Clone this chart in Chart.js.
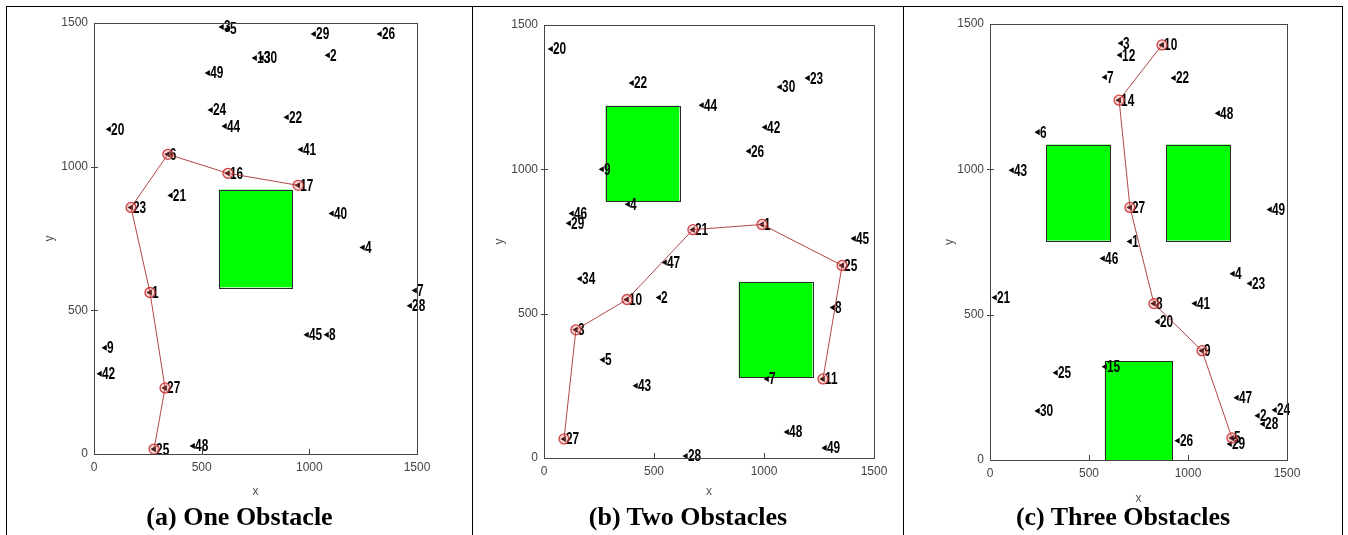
<!DOCTYPE html>
<html>
<head>
<meta charset="utf-8">
<script src="https://cdn.jsdelivr.net/npm/chart.js@4.4.1/dist/chart.umd.min.js"></script>
<style>
  html, body { margin: 0; padding: 0; background: #fff; }
  body { width: 1348px; height: 535px; position: relative; overflow: hidden; }
  .line { position: absolute; background: #000; }
  .cv { position: absolute; top: 7px; }
  .cap { position: absolute; top: 502px; font: bold 26px "Liberation Serif", "Times New Roman", serif; color: #000; text-align: center; }
</style>
</head>
<body>
<div class="line" style="left:6px;top:6px;width:1337px;height:1px"></div>
<div class="line" style="left:6px;top:6px;width:1px;height:529px"></div>
<div class="line" style="left:472px;top:6px;width:1px;height:529px"></div>
<div class="line" style="left:903px;top:6px;width:1px;height:529px"></div>
<div class="line" style="left:1342px;top:6px;width:1px;height:529px"></div>

<canvas id="chartA" class="cv" style="left:7px" width="465" height="496"></canvas>
<canvas id="chartB" class="cv" style="left:473px" width="430" height="496"></canvas>
<canvas id="chartC" class="cv" style="left:904px" width="438" height="503"></canvas>

<div class="cap" style="left:7px;width:465px">(a) One Obstacle</div>
<div class="cap" style="left:473px;width:430px">(b) Two Obstacles</div>
<div class="cap" style="left:904px;width:438px">(c) Three Obstacles</div>

<script>
// (a) one obstacle
const labelsA = ['3','5','29','26','13','30','2','49','24','44','22','20','41','6','16','17','21','23','40','4','1','7','28','45','8','9','42','27','25','48'];
const xA = [594,622,1022,1328,748,780,1087,530,543,608,896,70,961,343,622,948,357,172,1105,1249,260,1491,1468,989,1082,51,28,330,279,460];
const yA = [1486,1480,1462,1462,1378,1378,1388,1326,1197,1141,1172,1130,1060,1043,977,935,900,858,837,719,562,569,516,415,415,370,279,230,17,28];
const pathA = ['25','27','1','23','6','16','17'];
const obstA = [[580,580,920,920]];

// (b) two obstacles
const labelsB = ['20','22','44','30','23','42','26','9','4','46','29','21','1','45','25','47','34','10','2','8','3','5','43','7','11','27','48','49','28'];
const xB = [32,400,718,1073,1200,1005,932,264,382,127,114,677,991,1409,1355,550,164,377,523,1314,145,268,418,1014,1268,91,1105,1277,645];
const yB = [1417,1299,1222,1285,1316,1146,1063,1000,879,847,813,791,809,760,667,677,621,549,556,521,444,340,250,274,274,66,90,35,7];
const pathB = ['27','3','10','21','1','25','11'];
const obstB = [[280,890,615,1220],[885,280,1220,610]];

// (c) three obstacles
const labelsC = ['3','12','10','7','22','14','48','6','43','27','49','1','46','4','23','21','41','8','20','9','15','25','47','30','24','2','28','26','5','29'];
const xC = [662,657,869,581,929,652,1152,242,111,707,1414,707,571,1227,1313,25,1035,828,848,1071,581,333,1247,242,1439,1353,1379,949,1222,1212];
const yC = [1434,1393,1428,1317,1314,1238,1193,1128,997,869,862,752,693,641,607,559,538,538,476,376,321,300,214,169,172,152,124,66,76,55];
const pathC = ['10','14','27','8','9','5'];
const obstC = [[285,755,610,1085],[890,755,1215,1085],[580,0,920,340]];

const tickVals = [0, 500, 1000, 1500];
const sans = '"Liberation Sans", Arial, sans-serif';

const mapExtras = {
  id: 'mapExtras',
  beforeDatasetsDraw(chart, args, opts) {
    const ctx = chart.ctx, xs = chart.scales.x, ys = chart.scales.y;
    ctx.save();
    opts.obstacles.forEach(r => {
      const x0 = xs.getPixelForValue(r[0]), x1 = xs.getPixelForValue(r[2]);
      const y0 = ys.getPixelForValue(r[3]), y1 = ys.getPixelForValue(r[1]);
      ctx.fillStyle = '#00ff00';
      ctx.fillRect(x0, y0, x1 - x0, y1 - y0);
      ctx.strokeStyle = '#2a2a2a';
      ctx.lineWidth = 1;
      ctx.strokeRect(Math.round(x0) + 0.5, Math.round(y0) + 0.5, Math.round(x1 - x0), Math.round(y1 - y0));
    });
    ctx.restore();
  },
  afterDatasetDraw(chart, args, opts) {
    if (args.index !== 1) return;
    const ctx = chart.ctx;
    ctx.fillStyle = '#000';
    ctx.font = 'bold 16px ' + sans;
    ctx.textBaseline = 'middle';
    ctx.textAlign = 'left';
    args.meta.data.forEach((el, i) => {
      // condensed look like the original MATLAB labels
      ctx.save();
      ctx.translate(el.x + 2, el.y + 1);
      ctx.scale(0.74, 1);
      ctx.fillText(opts.labels[i], 0, 0);
      ctx.restore();
    });
  },
  afterDraw(chart) {
    const ctx = chart.ctx, a = chart.chartArea, xs = chart.scales.x, ys = chart.scales.y;
    ctx.save();
    ctx.strokeStyle = '#454545';
    ctx.lineWidth = 1;
    ctx.strokeRect(Math.round(a.left) + 0.5, Math.round(a.top) + 0.5, Math.round(a.right - a.left), Math.round(a.bottom - a.top));
    ctx.beginPath();
    tickVals.slice(1, 3).forEach(v => {
      const px = Math.round(xs.getPixelForValue(v)) + 0.5;
      ctx.moveTo(px, a.bottom); ctx.lineTo(px, a.bottom - 5);
      const py = Math.round(ys.getPixelForValue(v)) + 0.5;
      ctx.moveTo(a.left - 3, py); ctx.lineTo(a.left + 4, py);
    });
    ctx.stroke();
    ctx.restore();
  }
};

function makeChart(id, labels, xs, ys, path, obst, geo) {
  const pts = labels.map((l, i) => ({ x: xs[i], y: ys[i] }));
  const route = path.map(l => { const i = labels.indexOf(l); return { x: xs[i], y: ys[i] }; });
  return new Chart(document.getElementById(id), {
    type: 'scatter',
    data: {
      datasets: [
        {
          label: 'path',
          data: route,
          showLine: true,
          borderColor: 'rgba(165,40,40,0.85)',
          borderWidth: 1,
          pointRadius: 5,
          pointBorderWidth: 1.3,
          pointBorderColor: 'rgba(200,50,50,0.9)',
          pointBackgroundColor: 'rgba(230,80,80,0.25)'
        },
        {
          label: 'nodes',
          data: pts,
          pointStyle: 'triangle',
          rotation: 270,
          pointRadius: 3.5,
          borderWidth: 0,
          backgroundColor: '#000',
          borderColor: '#000'
        }
      ]
    },
    options: {
      responsive: false,
      animation: false,
      events: [],
      layout: { padding: { left: geo.padL, right: geo.padR, top: geo.padT, bottom: 0 } },
      plugins: {
        legend: { display: false },
        tooltip: { enabled: false },
        mapExtras: { obstacles: obst, labels: labels }
      },
      scales: {
        x: {
          type: 'linear', min: 0, max: 1500,
          afterFit: s => { s.height = geo.xH; },
          afterBuildTicks: s => { s.ticks = tickVals.map(v => ({ value: v })); },
          grid: { drawOnChartArea: false, drawTicks: false },
          border: { display: false },
          ticks: { color: '#444', padding: 6, maxRotation: 0, callback: v => String(v), font: { family: sans, size: 12 } },
          title: { display: true, text: 'x', color: '#555', font: { family: sans, size: 12 } }
        },
        y: {
          type: 'linear', min: 0, max: 1500,
          afterFit: s => { s.width = geo.yW; },
          afterBuildTicks: s => { s.ticks = tickVals.map(v => ({ value: v })); },
          grid: { drawOnChartArea: false, drawTicks: false },
          border: { display: false },
          ticks: { color: '#444', padding: 6, callback: v => String(v), font: { family: sans, size: 12 } },
          title: { display: true, text: 'y', color: '#555', font: { family: sans, size: 12 } }
        }
      }
    },
    plugins: [mapExtras]
  });
}

makeChart('chartA', labelsA, xA, yA, pathA, obstA, { padL: 31, yW: 56, padR: 55, padT: 16, xH: 49 });
makeChart('chartB', labelsB, xB, yB, pathB, obstB, { padL: 15, yW: 56, padR: 29, padT: 18, xH: 45 });
makeChart('chartC', labelsC, xC, yC, pathC, obstC, { padL: 34, yW: 52, padR: 55, padT: 17, xH: 50 });
</script>
</body>
</html>
